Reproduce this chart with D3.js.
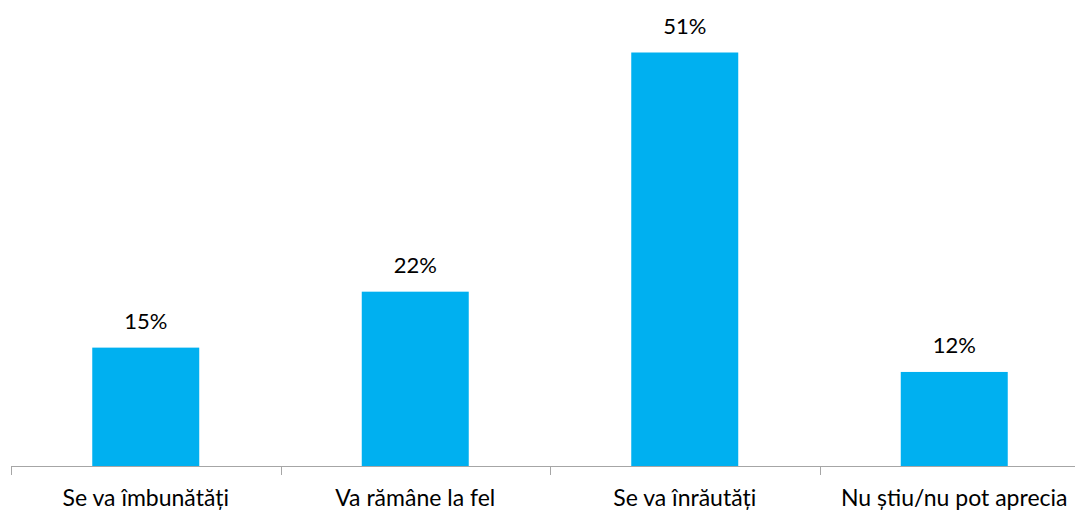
<!DOCTYPE html>
<html>
<head>
<meta charset="utf-8">
<script src="https://cdn.jsdelivr.net/npm/d3@7"></script>
<style>
  html, body { margin: 0; padding: 0; background: #fff; }
  svg { display: block; }
  text { font-family: Lato, "Open Sans", sans-serif; fill: #000; }
</style>
</head>
<body>
<svg id="chart" width="1075" height="511"></svg>
<script>
const categories = ["Se va îmbunătăți", "Va rămâne la fel", "Se va înrăutăți", "Nu știu/nu pot aprecia"];
const values = [14.6, 21.5, 51.0, 11.6];
const valueLabels = ["15%", "22%", "51%", "12%"];

const svg = d3.select("#chart");
const W = 1075;
const x0 = 11, step = 269.5;
const x = d3.scaleBand()
  .domain(categories)
  .range([x0, x0 + step * categories.length])
  .paddingInner(0.603)
  .paddingOuter(0.3015);
const y = d3.scaleLinear().domain([0, 51]).range([466, 52.5]);

svg.selectAll("rect.bar")
  .data(categories)
  .join("rect")
  .attr("class", "bar")
  .attr("x", d => x(d))
  .attr("width", x.bandwidth())
  .attr("y", (d, i) => y(values[i]))
  .attr("height", (d, i) => y(0) - y(values[i]))
  .attr("fill", "#00B0F0");

// axis line
svg.append("line")
  .attr("x1", x0).attr("x2", x0 + step * categories.length)
  .attr("y1", 466.5).attr("y2", 466.5)
  .attr("stroke", "#a6a6a6").attr("stroke-width", 1);

// category boundary ticks
const tickPos = d3.range(categories.length + 1).map(i => x0 + step * i);
svg.selectAll("line.tick")
  .data(tickPos)
  .join("line")
  .attr("class", "tick")
  .attr("x1", d => Math.round(d) + 0.5).attr("x2", d => Math.round(d) + 0.5)
  .attr("y1", 466).attr("y2", 475)
  .attr("stroke", "#a6a6a6").attr("stroke-width", 1);

// value labels
svg.selectAll("text.val")
  .data(categories)
  .join("text")
  .attr("class", "val")
  .attr("x", d => x(d) + x.bandwidth() / 2)
  .attr("y", (d, i) => y(values[i]) - 19)
  .attr("text-anchor", "middle")
  .attr("font-size", 22)
  .text((d, i) => valueLabels[i]);

// category labels
svg.selectAll("text.cat")
  .data(categories)
  .join("text")
  .attr("class", "cat")
  .attr("x", d => x(d) + x.bandwidth() / 2)
  .attr("y", 506)
  .attr("text-anchor", "middle")
  .attr("font-size", 23)
  .text(d => d)
  .each(function (d) {
    const w = this.getComputedTextLength();
    const cx = x(d) + x.bandwidth() / 2;
    if (cx + w / 2 > W - 2) d3.select(this).attr("x", W - 2 - w / 2);
  });
</script>
</body>
</html>
